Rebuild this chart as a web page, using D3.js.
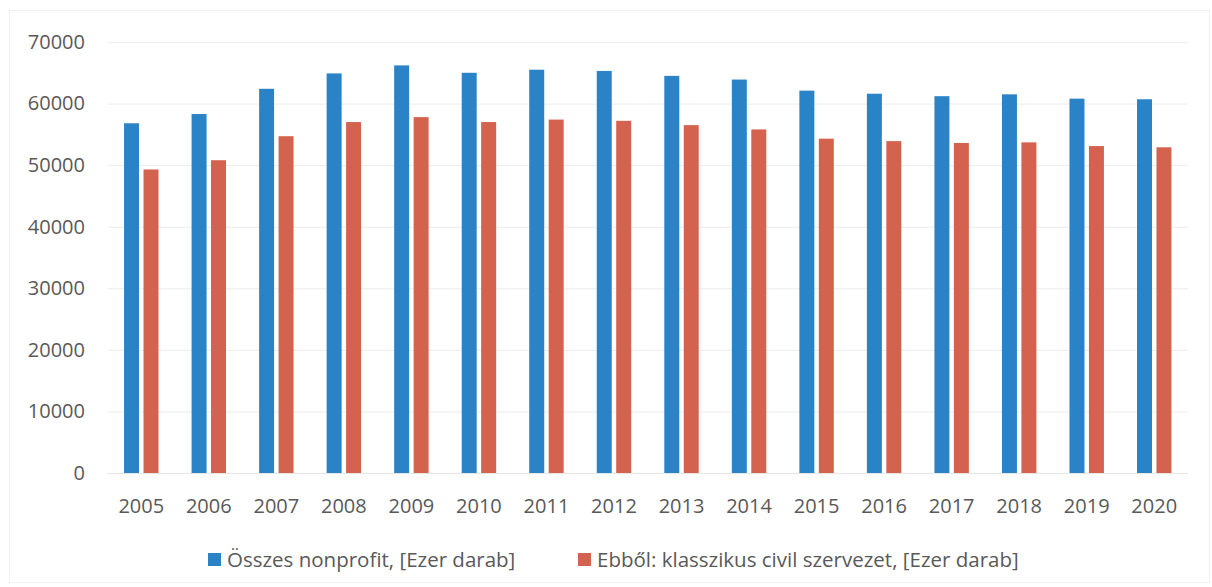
<!DOCTYPE html>
<html>
<head>
<meta charset="utf-8">
<script src="https://cdn.jsdelivr.net/npm/d3@7"></script>
<style>
  html, body { margin: 0; padding: 0; background: #ffffff; }
  svg { display: block; }
</style>
</head>
<body>
<svg id="chart" width="1212" height="587"></svg>
<script>
const years = ["2005","2006","2007","2008","2009","2010","2011","2012","2013","2014","2015","2016","2017","2018","2019","2020"];
const osszes = [56800, 58300, 62400, 64900, 66200, 65000, 65500, 65300, 64500, 63900, 62100, 61600, 61200, 61500, 60800, 60700];
const civil  = [49300, 50800, 54700, 57000, 57800, 57000, 57400, 57200, 56500, 55800, 54300, 53900, 53600, 53700, 53100, 52900];
const yTicks = [0, 10000, 20000, 30000, 40000, 50000, 60000, 70000];
const seriesNames = ["Összes nonprofit, [Ezer darab]", "Ebből: klasszikus civil szervezet, [Ezer darab]"];
const seriesColors = ["#2a83c6", "#d3634f"];

const svg = d3.select("#chart");

// faint outer frame
svg.append("rect").attr("x", 9.5).attr("y", 10.5).attr("width", 1200).attr("height", 572)
  .attr("fill", "none").attr("stroke", "#f1f1f1").attr("stroke-width", 1);

const plot = { left: 107.5, right: 1188, top: 42, bottom: 473 };

const x0 = d3.scaleBand().domain(years).range([plot.left, plot.right])
  .paddingInner(0.49).paddingOuter(0.245);
const x1 = d3.scaleBand().domain([0, 1]).range([0, x0.bandwidth()]).paddingInner(0.23);
const y = d3.scaleLinear().domain([0, 70000]).range([plot.bottom, plot.top]);

// gridlines
const grid = d3.axisLeft(y).tickValues(yTicks).tickSize(-(plot.right - plot.left)).tickFormat("");
svg.append("g").attr("transform", `translate(${plot.left},0)`).call(grid)
  .call(g => g.select(".domain").remove())
  .call(g => g.selectAll("line").attr("stroke", "#ececec").attr("stroke-width", 1));

// y axis labels
const yAxis = d3.axisLeft(y).tickValues(yTicks).tickSize(0).tickPadding(0).tickFormat(d3.format("d"));
svg.append("g").attr("transform", "translate(85,0)").call(yAxis)
  .call(g => g.select(".domain").remove())
  .call(g => g.selectAll("text").attr("fill", "#595959")
    .style("font-family", "'Open Sans', sans-serif").style("font-size", "20px"));

// bars
const data = years.map((yr, i) => ({ year: yr, vals: [osszes[i], civil[i]] }));
const groups = svg.append("g").selectAll("g").data(data).join("g")
  .attr("transform", d => `translate(${x0(d.year)},0)`);
groups.selectAll("rect").data(d => d.vals.map((v, k) => ({ k, v }))).join("rect")
  .attr("x", d => x1(d.k))
  .attr("width", x1.bandwidth())
  .attr("y", d => y(d.v))
  .attr("height", d => y(0) - y(d.v))
  .attr("fill", d => seriesColors[d.k]);

// baseline
svg.append("line").attr("x1", plot.left).attr("x2", plot.right)
  .attr("y1", y(0) + 0.5).attr("y2", y(0) + 0.5).attr("stroke", "#e6e6e6");

// x axis labels
const xAxis = d3.axisBottom(x0).tickSize(0).tickPadding(0);
svg.append("g").attr("transform", `translate(0,${plot.bottom})`).call(xAxis)
  .call(g => g.select(".domain").remove())
  .call(g => g.selectAll("text").attr("fill", "#595959").attr("y", 34).attr("dy", "0.32em")
    .style("font-family", "'Open Sans', sans-serif").style("font-size", "20px"));

// legend
const legendFont = "'Open Sans', sans-serif";
const legendItems = [
  { sx: 208, tx: 227, name: seriesNames[0], color: seriesColors[0] },
  { sx: 578, tx: 597, name: seriesNames[1], color: seriesColors[1] }
];
const lg = svg.append("g");
legendItems.forEach(it => {
  lg.append("rect").attr("x", it.sx).attr("y", 553).attr("width", 13).attr("height", 13).attr("fill", it.color);
  lg.append("text").attr("x", it.tx).attr("y", 567).text(it.name)
    .attr("fill", "#595959").style("font-family", legendFont).style("font-size", "20.5px");
});
</script>
</body>
</html>
